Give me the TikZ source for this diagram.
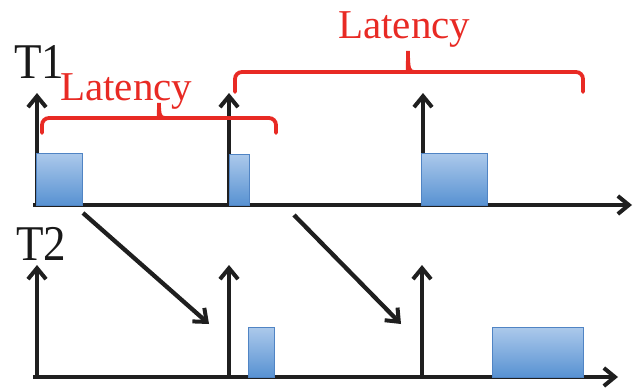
\documentclass[tikz,border=0pt]{standalone}
\usepackage{fontspec}
\setmainfont{Liberation Serif}
\usetikzlibrary{arrows.meta}
\definecolor{lred}{RGB}{232,42,36}
\definecolor{btop}{RGB}{172,201,235}
\definecolor{bbot}{RGB}{88,146,210}
\definecolor{bedge}{RGB}{80,132,196}
\tikzset{
  ax/.style={line width=4.3pt,draw=black!88,-{Straight Barb[length=11pt,width=18pt,line width=4pt]}},
  bracepath/.style={line width=3.8pt,draw=lred},
  blockbox/.style={shading=axis,top color=btop,bottom color=bbot,draw=bedge,line width=1pt},
  tlabel/.style={font=\fontsize{50}{55}\selectfont,text=black!90,inner sep=0pt,anchor=base west,xscale=0.9},
  latlabel/.style={font=\fontsize{41}{46}\selectfont,text=lred,inner sep=0pt,anchor=base west}
}
\begin{document}
\begin{tikzpicture}[x=1pt,y=-1pt]
\useasboundingbox (0,0) rectangle (639,388);
% coordinates
\coordinate (o1) at (37,205);
\coordinate (e1) at (632,205);
\coordinate (o2) at (37,377);
\coordinate (e2) at (618,377);
% T1 axes
\draw[ax,-] (33,205) -- (o1);
\draw[ax] (o1) -- (e1);
\draw[ax] (o1) -- (37,93);
\draw[ax] (229,205) -- (229,93);
\draw[ax] (423,205) -- (423,93);
% T2 axes
\draw[ax,-] (33,377) -- (o2);
\draw[ax] (o2) -- (e2);
\draw[ax] (o2) -- (37,265);
\draw[ax] (229,377) -- (229,265);
\draw[ax] (422,377) -- (422,265);
% blocks
\path[blockbox] (36,153) rectangle (82,205) node[pos=0.5] (a1) {};
\path[blockbox] (229,154) rectangle (249,205) node[pos=0.5] (a2) {};
\path[blockbox] (421,153) rectangle (487,205) node[pos=0.5] (a3) {};
\path[blockbox] (248,327) rectangle (274,377) node[pos=0.5] (b1) {};
\path[blockbox] (492,327) rectangle (583,377) node[pos=0.5] (b2) {};
% diagonal arrows
\coordinate (s1) at (83,213);
\coordinate (t1) at (209,324);
\coordinate (s2) at (294,215);
\coordinate (t2) at (401,324);
\draw[ax] (s1) -- (t1);
\draw[ax] (s2) -- (t2);
% braces
\draw[bracepath,line cap=round] (42,133) [rounded corners=7pt] -- (42,118) -- (153,118) [sharp corners]
  .. controls (158,118) and (159,115) .. (159,103)
  .. controls (159,115) and (160,118) .. (165,118) [rounded corners=7pt] -- (276,118) -- (276,133);
\draw[bracepath,line cap=round] (235,92) [rounded corners=7pt] -- (235,72) -- (402,72) [sharp corners]
  .. controls (407,72) and (408,69) .. (408,51)
  .. controls (408,69) and (409,72) .. (414,72) [rounded corners=7pt] -- (583,72) -- (583,92);
% labels
\node[tlabel] (T1) at (14,78) {T1};
\node[tlabel] (T2) at (16,260) {T2};
\node[latlabel] (L1) at (60,100) {Latency};
\node[latlabel] (L2) at (338,38) {Latency};
\end{tikzpicture}
\end{document}
